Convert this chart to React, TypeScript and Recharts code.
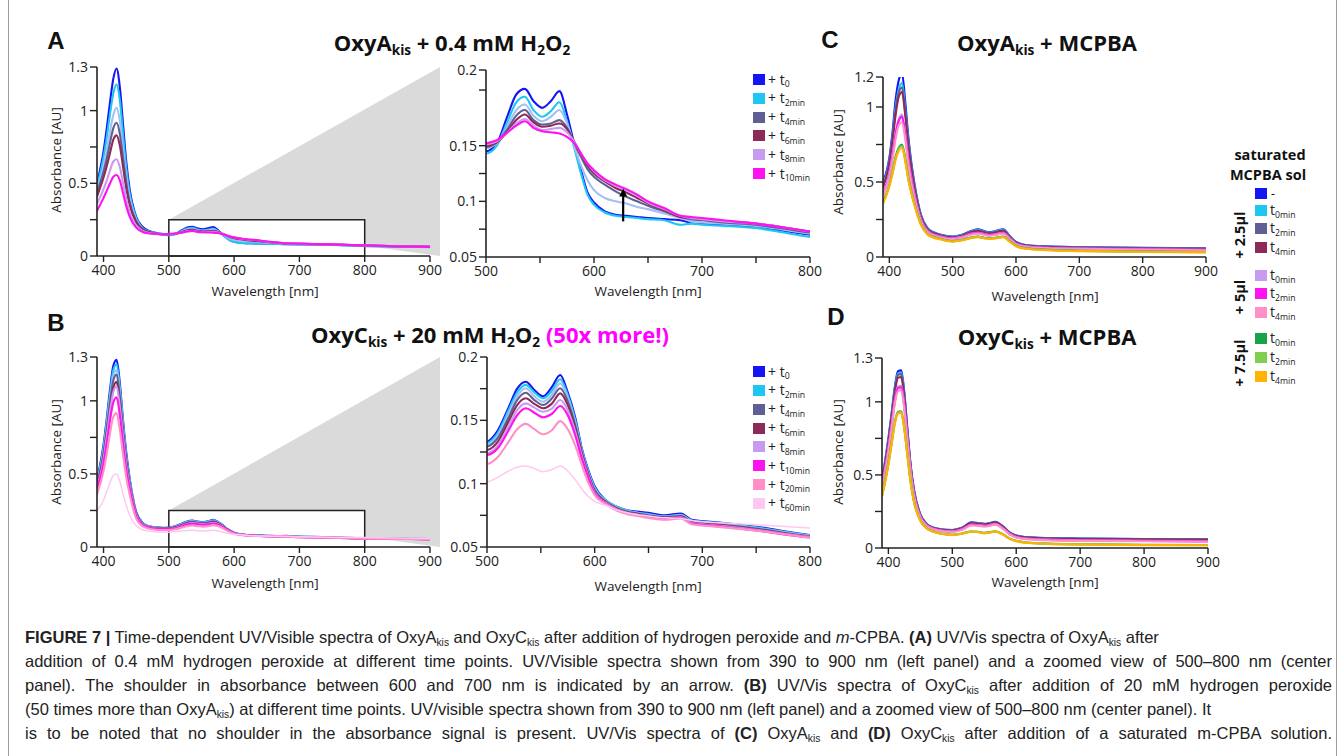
import React from 'react';
import { LineChart, Line, XAxis, YAxis, ReferenceArea, ReferenceLine } from 'recharts';

const FONT = '"Open Sans", sans-serif';
const CAP_FONT = '"Liberation Sans", Arial, sans-serif';

// ---------- colours ----------
const BLUE = '#1414f5';
const CYAN = '#1ec6f2';
const LBLUE = '#a3c0f2';
const SLATE = '#5f5f96';
const MAROON = '#8d2b58';
const LAV = '#c79bf0';
const MAG = '#ff12f0';
const PINK = '#ff8fc6';
const LPINK = '#ffc8f2';
const GREEN = '#17a34a';
const LGREEN = '#80cf4e';
const ORANGE = '#ffb300';

// ---------- wavelengths ----------
const WL_AB = [390, 400, 405, 410, 415, 420, 425, 430, 435, 440, 450, 460, 470, 480, 490,
  500, 510, 520, 528, 536, 544, 552, 560, 568, 575, 582, 588, 594, 600, 610, 620, 630, 640, 650, 665, 680, 690, 700, 720, 750, 800, 850, 900];

// ---------- panel A: OxyAkis + 0.4 mM H2O2 ----------
const A_T0 = [0.50, 0.72, 0.88, 1.06, 1.22, 1.29, 1.16, 0.90, 0.64, 0.46, 0.27, 0.20, 0.172, 0.16, 0.152,
  0.145, 0.152, 0.177, 0.196, 0.201, 0.190, 0.184, 0.190, 0.199, 0.178, 0.150, 0.128, 0.108, 0.099, 0.091, 0.088, 0.087, 0.086, 0.085, 0.084, 0.083, 0.081, 0.080, 0.079, 0.077, 0.070, 0.066, 0.062];
const A_T2 = [0.48, 0.68, 0.82, 0.98, 1.12, 1.18, 1.07, 0.83, 0.60, 0.43, 0.26, 0.19, 0.168, 0.156, 0.149,
  0.143, 0.150, 0.172, 0.189, 0.194, 0.182, 0.176, 0.181, 0.189, 0.172, 0.147, 0.125, 0.106, 0.097, 0.090, 0.087, 0.086, 0.085, 0.084, 0.083, 0.079, 0.080, 0.079, 0.078, 0.076, 0.068, 0.065, 0.061];
const A_T1 = [0.46, 0.62, 0.73, 0.86, 0.97, 1.02, 0.93, 0.73, 0.54, 0.40, 0.25, 0.188, 0.166, 0.155, 0.150,
  0.148, 0.152, 0.168, 0.182, 0.187, 0.177, 0.172, 0.176, 0.182, 0.170, 0.149, 0.132, 0.119, 0.110, 0.103, 0.100, 0.098, 0.095, 0.093, 0.089, 0.085, 0.082, 0.081, 0.080, 0.078, 0.071, 0.067, 0.063];
const A_T4 = [0.44, 0.58, 0.67, 0.78, 0.88, 0.917, 0.84, 0.67, 0.50, 0.37, 0.24, 0.185, 0.165, 0.155, 0.150,
  0.149, 0.153, 0.165, 0.177, 0.182, 0.173, 0.169, 0.170, 0.173, 0.166, 0.152, 0.140, 0.129, 0.122, 0.115, 0.109, 0.104, 0.100, 0.096, 0.091, 0.086, 0.084, 0.083, 0.081, 0.079, 0.072, 0.067, 0.063];
const A_T6 = [0.41, 0.54, 0.62, 0.71, 0.80, 0.83, 0.76, 0.61, 0.46, 0.35, 0.23, 0.18, 0.163, 0.154, 0.150,
  0.150, 0.153, 0.163, 0.173, 0.178, 0.171, 0.167, 0.168, 0.170, 0.165, 0.153, 0.142, 0.132, 0.125, 0.118, 0.112, 0.108, 0.103, 0.098, 0.092, 0.086, 0.085, 0.084, 0.082, 0.080, 0.073, 0.067, 0.063];
const A_T8 = [0.36, 0.46, 0.52, 0.59, 0.65, 0.665, 0.61, 0.50, 0.39, 0.30, 0.21, 0.172, 0.158, 0.152, 0.150,
  0.151, 0.154, 0.162, 0.170, 0.174, 0.168, 0.164, 0.165, 0.166, 0.162, 0.153, 0.143, 0.134, 0.127, 0.119, 0.114, 0.110, 0.105, 0.099, 0.093, 0.087, 0.085, 0.084, 0.082, 0.080, 0.073, 0.067, 0.063];
const A_T10 = [0.31, 0.40, 0.45, 0.50, 0.545, 0.557, 0.52, 0.43, 0.34, 0.27, 0.195, 0.165, 0.155, 0.151, 0.150,
  0.152, 0.155, 0.162, 0.168, 0.172, 0.166, 0.163, 0.162, 0.161, 0.158, 0.152, 0.143, 0.134, 0.128, 0.120, 0.115, 0.111, 0.106, 0.100, 0.094, 0.087, 0.086, 0.085, 0.083, 0.080, 0.073, 0.067, 0.063];

// ---------- panel B: OxyCkis + 20 mM H2O2 ----------
const B_T0 = [0.46, 0.70, 0.88, 1.08, 1.24, 1.28, 1.12, 0.86, 0.64, 0.47, 0.24, 0.165, 0.142, 0.134, 0.131,
  0.133, 0.142, 0.160, 0.175, 0.1805, 0.174, 0.169, 0.176, 0.1858, 0.172, 0.152, 0.128, 0.111, 0.098, 0.087, 0.082, 0.079, 0.078, 0.077, 0.075, 0.0765, 0.0715, 0.0705, 0.069, 0.066, 0.0595, 0.057, 0.055];
const B_T2 = [0.45, 0.68, 0.86, 1.05, 1.21, 1.25, 1.09, 0.84, 0.62, 0.46, 0.235, 0.162, 0.14, 0.133, 0.130,
  0.1318, 0.140, 0.158, 0.172, 0.178, 0.172, 0.1674, 0.173, 0.1824, 0.170, 0.150, 0.127, 0.110, 0.097, 0.087, 0.082, 0.079, 0.077, 0.076, 0.074, 0.0755, 0.071, 0.070, 0.0685, 0.0655, 0.059, 0.0565, 0.0545];
const B_T1 = [0.44, 0.66, 0.83, 1.02, 1.17, 1.21, 1.06, 0.82, 0.60, 0.45, 0.232, 0.16, 0.139, 0.132, 0.129,
  0.1305, 0.138, 0.155, 0.169, 0.1753, 0.169, 0.1647, 0.170, 0.1792, 0.168, 0.148, 0.126, 0.109, 0.096, 0.0865, 0.0815, 0.0785, 0.077, 0.0755, 0.074, 0.075, 0.0705, 0.0695, 0.068, 0.065, 0.059, 0.0565, 0.0545];
const B_T4 = [0.43, 0.64, 0.81, 0.99, 1.14, 1.18, 1.03, 0.80, 0.59, 0.44, 0.23, 0.158, 0.137, 0.130, 0.128,
  0.1292, 0.136, 0.152, 0.166, 0.1718, 0.166, 0.1621, 0.167, 0.1753, 0.165, 0.146, 0.125, 0.108, 0.095, 0.086, 0.081, 0.078, 0.0765, 0.075, 0.0735, 0.0745, 0.070, 0.069, 0.0675, 0.0645, 0.0585, 0.056, 0.054];
const B_T6 = [0.42, 0.62, 0.78, 0.95, 1.09, 1.13, 0.99, 0.77, 0.57, 0.43, 0.225, 0.155, 0.135, 0.128, 0.126,
  0.1266, 0.133, 0.149, 0.162, 0.1674, 0.163, 0.1595, 0.163, 0.1713, 0.162, 0.144, 0.124, 0.107, 0.094, 0.0855, 0.0805, 0.0775, 0.076, 0.0745, 0.073, 0.074, 0.0695, 0.0685, 0.067, 0.064, 0.058, 0.0555, 0.054];
const B_T8 = [0.41, 0.60, 0.76, 0.93, 1.06, 1.10, 0.96, 0.75, 0.55, 0.42, 0.22, 0.153, 0.133, 0.126, 0.124,
  0.124, 0.130, 0.145, 0.158, 0.1634, 0.160, 0.1568, 0.159, 0.1661, 0.158, 0.141, 0.122, 0.106, 0.093, 0.085, 0.080, 0.077, 0.0755, 0.074, 0.0725, 0.0735, 0.069, 0.068, 0.0665, 0.0635, 0.058, 0.0555, 0.054];
const B_T10 = [0.40, 0.57, 0.71, 0.87, 0.99, 1.025, 0.90, 0.70, 0.52, 0.40, 0.21, 0.15, 0.131, 0.124, 0.122,
  0.1226, 0.128, 0.142, 0.154, 0.1595, 0.156, 0.1524, 0.155, 0.1613, 0.154, 0.138, 0.120, 0.105, 0.092, 0.0845, 0.0795, 0.0765, 0.075, 0.0735, 0.072, 0.073, 0.0685, 0.0675, 0.066, 0.063, 0.0575, 0.055, 0.0535];
const B_T20 = [0.36, 0.52, 0.64, 0.78, 0.89, 0.916, 0.80, 0.63, 0.47, 0.36, 0.195, 0.142, 0.125, 0.118, 0.116,
  0.1155, 0.121, 0.133, 0.143, 0.1472, 0.143, 0.139, 0.142, 0.1494, 0.143, 0.130, 0.115, 0.101, 0.091, 0.084, 0.079, 0.076, 0.0745, 0.073, 0.0715, 0.0725, 0.068, 0.067, 0.0655, 0.063, 0.0575, 0.055, 0.0535];
const B_T60 = [0.25, 0.32, 0.38, 0.44, 0.49, 0.50, 0.45, 0.36, 0.28, 0.22, 0.145, 0.118, 0.108, 0.104, 0.102,
  0.1016, 0.105, 0.110, 0.113, 0.1139, 0.112, 0.1094, 0.111, 0.1139, 0.110, 0.103, 0.096, 0.090, 0.086, 0.083, 0.0795, 0.077, 0.0755, 0.0745, 0.073, 0.0725, 0.071, 0.070, 0.069, 0.0675, 0.065, 0.062, 0.059];

// ---------- panels C / D: + MCPBA ----------
const WL_CD = [390, 400, 405, 410, 415, 420, 425, 430, 435, 440, 450, 460, 470, 480,
  500, 515, 530, 540, 550, 558, 567, 580, 590, 600, 615, 650, 700, 800, 900];

const C_NONE = [0.50, 0.66, 0.83, 1.05, 1.18, 1.225, 1.04, 0.80, 0.62, 0.48, 0.28, 0.195, 0.165, 0.15,
  0.136, 0.148, 0.175, 0.185, 0.172, 0.165, 0.172, 0.185, 0.140, 0.100, 0.080, 0.071, 0.066, 0.061, 0.058];
const C_25_T0 = [0.49, 0.64, 0.80, 1.00, 1.12, 1.16, 0.99, 0.77, 0.60, 0.47, 0.275, 0.19, 0.162, 0.148,
  0.134, 0.146, 0.172, 0.181, 0.169, 0.162, 0.169, 0.181, 0.137, 0.098, 0.079, 0.069, 0.064, 0.059, 0.056];
const C_25_T2 = [0.47, 0.63, 0.79, 0.98, 1.10, 1.13, 0.97, 0.75, 0.59, 0.46, 0.27, 0.188, 0.16, 0.146,
  0.132, 0.144, 0.169, 0.177, 0.166, 0.159, 0.166, 0.177, 0.134, 0.096, 0.077, 0.068, 0.063, 0.058, 0.055];
const C_25_T4 = [0.46, 0.62, 0.77, 0.95, 1.07, 1.10, 0.95, 0.74, 0.58, 0.45, 0.265, 0.185, 0.158, 0.144,
  0.130, 0.142, 0.166, 0.174, 0.163, 0.157, 0.163, 0.174, 0.132, 0.095, 0.076, 0.067, 0.062, 0.057, 0.054];
const C_5_T0 = [0.43, 0.56, 0.68, 0.83, 0.92, 0.95, 0.83, 0.65, 0.52, 0.41, 0.25, 0.175, 0.15, 0.138,
  0.124, 0.135, 0.156, 0.162, 0.153, 0.147, 0.152, 0.162, 0.125, 0.089, 0.071, 0.062, 0.057, 0.052, 0.048];
const C_5_T2 = [0.42, 0.55, 0.67, 0.82, 0.91, 0.935, 0.82, 0.64, 0.51, 0.40, 0.245, 0.172, 0.148, 0.136,
  0.122, 0.133, 0.154, 0.160, 0.151, 0.145, 0.150, 0.160, 0.123, 0.088, 0.070, 0.061, 0.056, 0.051, 0.047];
const C_5_T4 = [0.41, 0.54, 0.65, 0.79, 0.88, 0.90, 0.79, 0.62, 0.49, 0.39, 0.24, 0.168, 0.145, 0.133,
  0.119, 0.130, 0.150, 0.156, 0.147, 0.142, 0.147, 0.156, 0.120, 0.086, 0.068, 0.059, 0.054, 0.049, 0.045];
const C_75_T0 = [0.37, 0.48, 0.57, 0.67, 0.73, 0.75, 0.66, 0.53, 0.43, 0.35, 0.22, 0.155, 0.133, 0.122,
  0.106, 0.115, 0.131, 0.136, 0.128, 0.124, 0.128, 0.136, 0.106, 0.075, 0.058, 0.048, 0.042, 0.036, 0.033];
const C_75_T2 = [0.365, 0.475, 0.56, 0.66, 0.72, 0.74, 0.65, 0.52, 0.425, 0.345, 0.218, 0.153, 0.131, 0.12,
  0.104, 0.113, 0.129, 0.134, 0.126, 0.122, 0.126, 0.134, 0.104, 0.074, 0.057, 0.047, 0.041, 0.035, 0.032];
const C_75_T4 = [0.355, 0.47, 0.555, 0.65, 0.71, 0.73, 0.64, 0.515, 0.42, 0.34, 0.215, 0.151, 0.129, 0.118,
  0.102, 0.111, 0.127, 0.132, 0.124, 0.120, 0.124, 0.132, 0.102, 0.072, 0.055, 0.045, 0.039, 0.033, 0.031];

const D_NONE = [0.46, 0.75, 0.92, 1.10, 1.21, 1.215, 1.06, 0.80, 0.56, 0.40, 0.23, 0.165, 0.14, 0.13,
  0.123, 0.138, 0.175, 0.171, 0.165, 0.170, 0.180, 0.145, 0.105, 0.085, 0.075, 0.068, 0.065, 0.062, 0.059];
const D_25_T0 = [0.45, 0.74, 0.91, 1.09, 1.195, 1.20, 1.05, 0.79, 0.555, 0.395, 0.228, 0.163, 0.139, 0.129,
  0.122, 0.137, 0.173, 0.169, 0.164, 0.168, 0.178, 0.143, 0.104, 0.084, 0.074, 0.067, 0.064, 0.061, 0.058];
const D_25_T2 = [0.45, 0.73, 0.90, 1.08, 1.185, 1.19, 1.04, 0.785, 0.55, 0.39, 0.226, 0.162, 0.138, 0.128,
  0.121, 0.136, 0.172, 0.168, 0.163, 0.167, 0.177, 0.142, 0.103, 0.083, 0.073, 0.066, 0.063, 0.060, 0.057];
const D_25_T4 = [0.44, 0.72, 0.89, 1.06, 1.165, 1.17, 1.02, 0.775, 0.545, 0.385, 0.224, 0.161, 0.137, 0.127,
  0.120, 0.135, 0.170, 0.166, 0.161, 0.165, 0.175, 0.141, 0.102, 0.082, 0.072, 0.065, 0.062, 0.059, 0.056];
const D_5_T0 = [0.42, 0.68, 0.84, 1.01, 1.105, 1.11, 0.97, 0.74, 0.52, 0.37, 0.215, 0.155, 0.132, 0.122,
  0.114, 0.128, 0.160, 0.157, 0.152, 0.156, 0.165, 0.133, 0.096, 0.076, 0.065, 0.057, 0.053, 0.050, 0.047];
const D_5_T2 = [0.415, 0.675, 0.835, 1.00, 1.095, 1.10, 0.96, 0.735, 0.515, 0.365, 0.213, 0.153, 0.130, 0.120,
  0.112, 0.126, 0.158, 0.155, 0.150, 0.154, 0.163, 0.131, 0.094, 0.074, 0.063, 0.055, 0.051, 0.048, 0.045];
const D_5_T4 = [0.41, 0.665, 0.82, 0.985, 1.075, 1.08, 0.945, 0.725, 0.51, 0.36, 0.21, 0.151, 0.128, 0.118,
  0.110, 0.124, 0.155, 0.152, 0.147, 0.151, 0.160, 0.129, 0.092, 0.072, 0.061, 0.053, 0.049, 0.046, 0.043];
const D_75_T0 = [0.36, 0.58, 0.72, 0.86, 0.93, 0.935, 0.82, 0.63, 0.45, 0.32, 0.19, 0.135, 0.113, 0.101,
  0.091, 0.099, 0.113, 0.111, 0.104, 0.107, 0.114, 0.092, 0.064, 0.049, 0.038, 0.030, 0.026, 0.022, 0.021];
const D_75_T2 = [0.355, 0.575, 0.715, 0.855, 0.925, 0.93, 0.815, 0.625, 0.445, 0.318, 0.188, 0.134, 0.112, 0.100,
  0.090, 0.098, 0.112, 0.110, 0.103, 0.106, 0.113, 0.091, 0.063, 0.048, 0.037, 0.029, 0.025, 0.021, 0.020];
const D_75_T4 = [0.35, 0.57, 0.71, 0.85, 0.92, 0.925, 0.81, 0.62, 0.44, 0.315, 0.186, 0.133, 0.111, 0.099,
  0.089, 0.097, 0.111, 0.109, 0.100, 0.105, 0.112, 0.090, 0.062, 0.047, 0.036, 0.028, 0.024, 0.020, 0.019];

// ---------- tick labels ----------
const X_FULL_TICKS = [400, 500, 600, 700, 800, 900];
const X_ZOOM_TICKS = [500, 550, 600, 650, 700, 750, 800];
const Y_FULL_TICKS = [0, 0.25, 0.5, 0.75, 1, 1.3];
const Y_C_TICKS = [0, 0.25, 0.5, 0.75, 1, 1.2];
const Y_AZ_TICKS = [0.05, 0.075, 0.1, 0.125, 0.15, 0.2, 0.218];
const Y_BZ_TICKS = [0.05, 0.075, 0.1, 0.125, 0.15, 0.175, 0.2];

const A_LEGEND = ['0', '2min', '4min', '6min', '8min', '10min'];
const B_LEGEND = ['0', '2min', '4min', '6min', '8min', '10min', '20min', '60min'];

type Series = { key: string; color: string; values: number[]; w?: number };

const A_SERIES: Series[] = [
  { key: 't0', color: BLUE, values: A_T0 },
  { key: 't2', color: CYAN, values: A_T2 },
  { key: 't1', color: LBLUE, values: A_T1 },
  { key: 't4', color: SLATE, values: A_T4 },
  { key: 't6', color: MAROON, values: A_T6 },
  { key: 't8', color: LAV, values: A_T8 },
  { key: 't10', color: MAG, values: A_T10 },
];
const B_SERIES: Series[] = [
  { key: 't0', color: BLUE, values: B_T0 },
  { key: 't2', color: CYAN, values: B_T2 },
  { key: 't1', color: LBLUE, values: B_T1 },
  { key: 't4', color: SLATE, values: B_T4 },
  { key: 't6', color: MAROON, values: B_T6 },
  { key: 't8', color: LAV, values: B_T8 },
  { key: 't10', color: MAG, values: B_T10 },
  { key: 't20', color: PINK, values: B_T20 },
  { key: 't60', color: LPINK, values: B_T60, w: 1.5 },
];
const C_SERIES: Series[] = [
  { key: 'n', color: BLUE, values: C_NONE },
  { key: 'a0', color: CYAN, values: C_25_T0 },
  { key: 'a2', color: SLATE, values: C_25_T2 },
  { key: 'a4', color: MAROON, values: C_25_T4 },
  { key: 'b0', color: LAV, values: C_5_T0 },
  { key: 'b2', color: MAG, values: C_5_T2 },
  { key: 'b4', color: PINK, values: C_5_T4 },
  { key: 'c0', color: GREEN, values: C_75_T0 },
  { key: 'c2', color: LGREEN, values: C_75_T2 },
  { key: 'c4', color: ORANGE, values: C_75_T4 },
];
const D_SERIES: Series[] = [
  { key: 'n', color: BLUE, values: D_NONE },
  { key: 'a0', color: CYAN, values: D_25_T0 },
  { key: 'a2', color: SLATE, values: D_25_T2 },
  { key: 'a4', color: MAROON, values: D_25_T4 },
  { key: 'b0', color: LAV, values: D_5_T0 },
  { key: 'b2', color: MAG, values: D_5_T2 },
  { key: 'b4', color: PINK, values: D_5_T4 },
  { key: 'c0', color: GREEN, values: D_75_T0 },
  { key: 'c2', color: LGREEN, values: D_75_T2 },
  { key: 'c4', color: ORANGE, values: D_75_T4 },
];

function rows(wl: number[], series: Series[]) {
  return wl.map((w, i) => {
    const r: Record<string, number> = { wl: w };
    series.forEach((s) => { r[s.key] = s.values[i]; });
    return r;
  });
}

const near = (a: number, b: number) => Math.abs(a - b) < 1e-6;
const fmtFull = (v: number) => (near(v, 0.25) || near(v, 0.75) ? '' : String(v));
const fmtX100 = (v: number) => (v % 100 === 0 ? String(v) : '');
const fmtAZ = (v: number) => (near(v, 0.218) ? '0.2' : near(v, 0.05) || near(v, 0.1) || near(v, 0.15) ? String(v) : '');
const fmtBZ = (v: number) => (near(v, 0.05) || near(v, 0.1) || near(v, 0.15) || near(v, 0.2) ? String(v) : '');

const YW = 44, TM = 10, RM = 16, XH = 30;
const AX = '#222';

type PanelProps = {
  left: number; top: number; w: number; h: number;
  data: Record<string, number>[]; series: Series[];
  xDomain: [number, number]; xTicks: number[]; xFmt: (v: number) => string;
  yDomain: [number, number]; yTicks: number[]; yFmt: (v: number) => string;
  under?: React.ReactNode; over?: React.ReactNode;
};

function Panel(p: PanelProps) {
  const tick = { fill: '#222', fontSize: 14, fontFamily: FONT };
  return (
    <div style={{ position: 'absolute', left: p.left - YW, top: p.top - TM }}>
      <LineChart width={YW + p.w + RM} height={TM + p.h + XH} data={p.data}
        margin={{ top: TM, right: RM, left: 0, bottom: 0 }}>
        <XAxis dataKey="wl" type="number" domain={p.xDomain} ticks={p.xTicks} tickFormatter={p.xFmt}
          interval={0} allowDataOverflow height={XH} tick={tick} tickSize={6} tickMargin={3}
          axisLine={{ stroke: AX, strokeWidth: 1.6 }} tickLine={{ stroke: AX, strokeWidth: 1.4 }} />
        <YAxis type="number" domain={p.yDomain} ticks={p.yTicks} tickFormatter={p.yFmt}
          interval={0} allowDataOverflow width={YW} tick={tick} tickSize={7} tickMargin={2}
          axisLine={{ stroke: AX, strokeWidth: 1.6 }} tickLine={{ stroke: AX, strokeWidth: 1.4 }} />
        {p.under}
        {p.series.map((s) => (
          <Line key={s.key} dataKey={s.key} type="monotone" stroke={s.color} strokeWidth={s.w ?? 2.1}
            dot={false} activeDot={false} isAnimationActive={false} />
        ))}
        {p.over}
      </LineChart>
    </div>
  );
}

// wedge linking the boxed 500-800 region to the zoomed panel
const makeWedge = (boxTop: number, yMax: number) => (props: any) => {
  const { x, y, width, height } = props;
  const yb = y + height * (1 - boxTop / yMax);
  const xr = x + width + 10;
  return <polygon points={`${x},${yb} ${xr},${y} ${xr},${y + height}`} fill="#dadada" />;
};

const ArrowShape = (props: any) => {
  const { x1, y1, y2 } = props;
  const top = Math.min(y1, y2);
  const bot = Math.max(y1, y2);
  return (
    <g>
      <line x1={x1} x2={x1} y1={bot} y2={top + 6} stroke="#000" strokeWidth={2.2} />
      <polygon points={`${x1 - 4},${top + 8} ${x1 + 4},${top + 8} ${x1},${top}`} fill="#000" />
    </g>
  );
};

const Sub = ({ children }: { children: React.ReactNode }) => (
  <span style={{ fontSize: '0.62em', position: 'relative', top: '0.32em' }}>{children}</span>
);

const Txt = ({ x, y, children, style }: { x: number; y: number; children: React.ReactNode; style?: React.CSSProperties }) => (
  <div style={{ position: 'absolute', left: x, top: y, transform: 'translate(-50%,-50%)', whiteSpace: 'nowrap', lineHeight: 1, ...style }}>
    {children}
  </div>
);

const YTitle = ({ x, y }: { x: number; y: number }) => (
  <Txt x={x} y={y} style={{ transform: 'translate(-50%,-50%) rotate(-90deg)', fontFamily: FONT, fontSize: 13.5, color: '#222' }}>Absorbance [AU]</Txt>
);
const XTitle = ({ x, y }: { x: number; y: number }) => (
  <Txt x={x} y={y} style={{ fontFamily: FONT, fontSize: 13.5, color: '#222' }}>Wavelength [nm]</Txt>
);

function TimeLegend({ x, y0, step, labels, colors }: { x: number; y0: number; step: number; labels: string[]; colors: string[] }) {
  return (
    <>
      {labels.map((l, i) => (
        <div key={l} style={{ position: 'absolute', left: x, top: y0 + i * step - 6, height: 12, display: 'flex', alignItems: 'center', whiteSpace: 'nowrap' }}>
          <div style={{ width: 12, height: 11, background: colors[i] }} />
          <span style={{ marginLeft: 3, fontFamily: FONT, fontSize: 14, color: '#222', lineHeight: 1 }}>+ t<Sub>{l}</Sub></span>
        </div>
      ))}
    </>
  );
}

const MC_COLORS = [CYAN, SLATE, MAROON, LAV, MAG, PINK, GREEN, LGREEN, ORANGE];
const MC_LABELS = ['0min', '2min', '4min', '0min', '2min', '4min', '0min', '2min', '4min'];
const MC_Y = [210, 228, 247, 275, 293, 312, 338, 357, 376];

export default function App() {
  const dA = rows(WL_AB, A_SERIES);
  const dB = rows(WL_AB, B_SERIES);
  const dC = rows(WL_CD, C_SERIES);
  const dD = rows(WL_CD, D_SERIES);
  const title: React.CSSProperties = { fontFamily: FONT, fontWeight: 700, fontSize: 22, color: '#111' };
  const letter: React.CSSProperties = { fontFamily: CAP_FONT, fontWeight: 700, fontSize: 24, color: '#111' };
  const cap: React.CSSProperties = {
    position: 'absolute', left: 25, width: 1307, fontFamily: CAP_FONT, fontSize: '16.5px', color: '#222',
    whiteSpace: 'nowrap', lineHeight: '20px', textAlign: 'justify', textAlignLast: 'justify' as any,
  };
  const boxArea = (
    <ReferenceArea x1={500} x2={800} y1={0} y2={0.25} fill="#fff" fillOpacity={1} stroke="#222" strokeWidth={1.5} ifOverflow="visible" />
  );
  const rot: React.CSSProperties = { transform: 'translate(-50%,-50%) rotate(-90deg)', fontFamily: FONT, fontWeight: 700, fontSize: 14.5, color: '#111' };

  return (
    <div style={{ position: 'absolute', left: 0, top: 0, width: 1342, height: 756, background: '#fff', overflow: 'hidden' }}>
      <style>{'.recharts-surface{overflow:visible}'}</style>
      <div style={{ position: 'absolute', left: 8, top: 0, width: 1327, height: 756, borderLeft: '1px solid #9a9a9a', borderRight: '1px solid #9a9a9a' }} />

      {/* Panel A full */}
      <Panel left={97} top={67} w={333} h={189} data={dA} series={A_SERIES}
        xDomain={[390, 900]} xTicks={X_FULL_TICKS} xFmt={String}
        yDomain={[0, 1.3]} yTicks={Y_FULL_TICKS} yFmt={fmtFull}
        under={<>
          <ReferenceArea x1={500} x2={900} y1={0} y2={1.3} ifOverflow="visible" shape={makeWedge(0.25, 1.3)} />
          {boxArea}
        </>} />
      {/* Panel A zoom */}
      <Panel left={486} top={70} w={324} h={187} data={dA} series={A_SERIES}
        xDomain={[500, 800]} xTicks={X_ZOOM_TICKS} xFmt={fmtX100}
        yDomain={[0.05, 0.218]} yTicks={Y_AZ_TICKS} yFmt={fmtAZ}
        over={<ReferenceLine segment={[{ x: 627, y: 0.082 }, { x: 627, y: 0.1115 }]} shape={ArrowShape} ifOverflow="visible" />} />

      {/* Panel B full */}
      <Panel left={97} top={357} w={333} h={190} data={dB} series={B_SERIES}
        xDomain={[390, 900]} xTicks={X_FULL_TICKS} xFmt={String}
        yDomain={[0, 1.3]} yTicks={Y_FULL_TICKS} yFmt={fmtFull}
        under={<>
          <ReferenceArea x1={500} x2={900} y1={0} y2={1.3} ifOverflow="visible" shape={makeWedge(0.25, 1.3)} />
          {boxArea}
        </>} />
      {/* Panel B zoom */}
      <Panel left={487} top={357} w={323} h={190} data={dB} series={B_SERIES}
        xDomain={[500, 800]} xTicks={X_ZOOM_TICKS} xFmt={fmtX100}
        yDomain={[0.05, 0.2]} yTicks={Y_BZ_TICKS} yFmt={fmtBZ} />

      {/* Panel C */}
      <Panel left={883} top={77} w={323} h={180} data={dC} series={C_SERIES}
        xDomain={[390, 900]} xTicks={X_FULL_TICKS} xFmt={String}
        yDomain={[0, 1.2]} yTicks={Y_C_TICKS} yFmt={fmtFull} />
      {/* Panel D */}
      <Panel left={882} top={358} w={326} h={190} data={dD} series={D_SERIES}
        xDomain={[390, 900]} xTicks={X_FULL_TICKS} xFmt={String}
        yDomain={[0, 1.3]} yTicks={Y_FULL_TICKS} yFmt={fmtFull} />

      {/* letters */}
      <Txt x={56} y={41} style={letter}>A</Txt>
      <Txt x={56} y={323} style={letter}>B</Txt>
      <Txt x={830} y={40} style={letter}>C</Txt>
      <Txt x={836} y={317} style={letter}>D</Txt>

      {/* titles */}
      <Txt x={452} y={42} style={title}>OxyA<Sub>kis</Sub> + 0.4 mM H<Sub>2</Sub>O<Sub>2</Sub></Txt>
      <Txt x={490} y={334} style={title}>OxyC<Sub>kis</Sub> + 20 mM H<Sub>2</Sub>O<Sub>2</Sub> <span style={{ color: '#ff00ff' }}>(50x more!)</span></Txt>
      <Txt x={1047} y={42} style={title}>OxyA<Sub>kis</Sub> + MCPBA</Txt>
      <Txt x={1047} y={336} style={title}>OxyC<Sub>kis</Sub> + MCPBA</Txt>

      {/* axis titles */}
      <YTitle x={57} y={160} />
      <YTitle x={57} y={452} />
      <YTitle x={839} y={162} />
      <YTitle x={839} y={452} />
      <XTitle x={265} y={292} />
      <XTitle x={648} y={292} />
      <XTitle x={265} y={584} />
      <XTitle x={648} y={587} />
      <XTitle x={1045} y={297} />
      <XTitle x={1045} y={583} />

      {/* legends A/B */}
      <TimeLegend x={753} y0={79.5} step={18.8} labels={A_LEGEND} colors={[BLUE, CYAN, SLATE, MAROON, LAV, MAG]} />
      <TimeLegend x={753} y0={371.5} step={18.85} labels={B_LEGEND} colors={[BLUE, CYAN, SLATE, MAROON, LAV, MAG, PINK, LPINK]} />

      {/* legend MCPBA */}
      <Txt x={1270} y={155} style={{ fontFamily: FONT, fontWeight: 700, fontSize: 14.5, color: '#111' }}>saturated</Txt>
      <Txt x={1268} y={175} style={{ fontFamily: FONT, fontWeight: 700, fontSize: 14.5, color: '#111' }}>MCPBA sol</Txt>
      <div style={{ position: 'absolute', left: 1255, top: 188, height: 11, display: 'flex', alignItems: 'center' }}>
        <div style={{ width: 12, height: 11, background: BLUE }} />
        <span style={{ marginLeft: 4, fontFamily: FONT, fontSize: 12, lineHeight: 1 }}>-</span>
      </div>
      {MC_Y.map((y, i) => (
        <div key={i} style={{ position: 'absolute', left: 1255, top: y - 6, height: 12, display: 'flex', alignItems: 'center', whiteSpace: 'nowrap' }}>
          <div style={{ width: 12, height: 11, background: MC_COLORS[i] }} />
          <span style={{ marginLeft: 3, fontFamily: FONT, fontSize: 14, color: '#222', lineHeight: 1 }}>t<Sub>{MC_LABELS[i]}</Sub></span>
        </div>
      ))}
      <Txt x={1240} y={235} style={rot}>+ 2.5µl</Txt>
      <Txt x={1240} y={297} style={rot}>+ 5µl</Txt>
      <Txt x={1240} y={363} style={rot}>+ 7.5µl</Txt>

      {/* caption */}
      <div style={{ ...cap, top: 627, width: 1123 }}>
        <b>FIGURE 7 |</b> Time-dependent UV/Visible spectra of OxyA<Sub>kis</Sub> and OxyC<Sub>kis</Sub> after addition of hydrogen peroxide and <i>m</i>-CPBA. <b>(A)</b> UV/Vis spectra of OxyA<Sub>kis</Sub> after
      </div>
      <div style={{ ...cap, top: 651 }}>
        addition of 0.4 mM hydrogen peroxide at different time points. UV/Visible spectra shown from 390 to 900 nm (left panel) and a zoomed view of 500–800 nm (center
      </div>
      <div style={{ ...cap, top: 675 }}>
        panel). The shoulder in absorbance between 600 and 700 nm is indicated by an arrow. <b>(B)</b> UV/Vis spectra of OxyC<Sub>kis</Sub> after addition of 20 mM hydrogen peroxide
      </div>
      <div style={{ ...cap, top: 699, width: 1082 }}>
        (50 times more than OxyA<Sub>kis</Sub>) at different time points. UV/visible spectra shown from 390 to 900 nm (left panel) and a zoomed view of 500–800 nm (center panel). It
      </div>
      <div style={{ ...cap, top: 723 }}>
        is to be noted that no shoulder in the absorbance signal is present. UV/Vis spectra of <b>(C)</b> OxyA<Sub>kis</Sub> and <b>(D)</b> OxyC<Sub>kis</Sub> after addition of a saturated m-CPBA solution.
      </div>
    </div>
  );
}
